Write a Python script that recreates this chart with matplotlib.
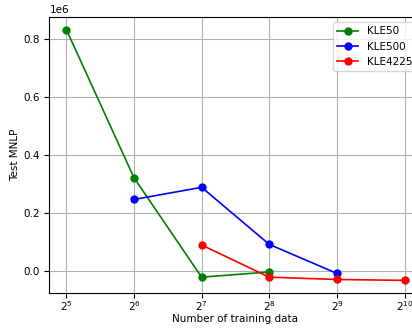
import matplotlib
matplotlib.use("Agg")
import matplotlib.pyplot as plt

plt.rcParams['font.size'] = 7.5

x50 = [32, 64, 128, 256]
kle50 = [0.831e6, 0.32e6, -0.023e6, -0.005e6]

x500 = [64, 128, 256, 512]
kle500 = [0.245e6, 0.287e6, 0.090e6, -0.010e6]

x4225 = [128, 256, 512, 1024]
kle4225 = [0.088e6, -0.023e6, -0.031e6, -0.034e6]

fig, ax = plt.subplots(figsize=(4.12, 3.28), dpi=100)
ax.plot(x50, kle50, marker='o', ms=5, lw=1.2, color='green', label='KLE50')
ax.plot(x500, kle500, marker='o', ms=5, lw=1.2, color='blue', label='KLE500')
ax.plot(x4225, kle4225, marker='o', ms=5, lw=1.2, color='red', label='KLE4225')
ax.set_xscale('log', base=2)
ax.ticklabel_format(axis='y', style='sci', scilimits=(6, 6))
ax.tick_params(axis='x', pad=1)
ax.set_xlabel("Number of training data", labelpad=1)
ax.set_ylabel("Test MNLP", labelpad=2)
ax.grid(True)
ax.legend(loc='upper right')
# the reference is cropped on the right, so the right spine sits outside the image
plt.subplots_adjust(left=0.12, right=1.023, top=0.948, bottom=0.107)
plt.savefig("out.png")
